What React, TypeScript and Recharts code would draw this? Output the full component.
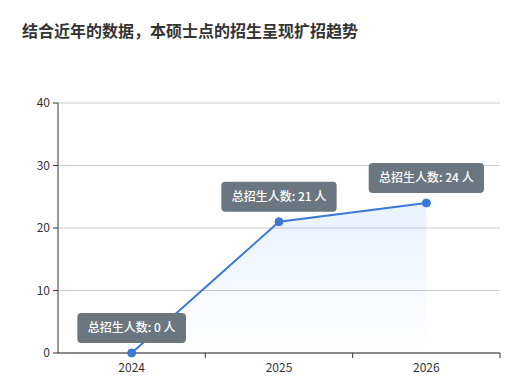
import { ComposedChart, Area, Line, XAxis, YAxis, CartesianGrid, LabelList } from "recharts";

const years = ["2024", "2025", "2026"];
const enrollment = [0, 21, 24];
const yTicks = [0, 10, 20, 30, 40];

const data = years.map((y, i) => ({ year: y, value: enrollment[i] }));

const W = 515;
const H = 378;
const LEFT = 58;
const RIGHT = 15;
const HALF_BAND = (W - LEFT - RIGHT) / years.length / 2;
const FONT = '"Noto Sans CJK SC", "Noto Sans", sans-serif';

function XTick(props: any) {
  const { x, y, payload } = props;
  return (
    <g>
      <line x1={x + HALF_BAND} y1={y - 8} x2={x + HALF_BAND} y2={y - 3} stroke="#333" />
      <text x={x} y={y + 2} dy="0.71em" textAnchor="middle" fill="#333" fontSize={12} fontFamily={FONT}>
        {payload.value}
      </text>
    </g>
  );
}

function BoxLabel(props: any) {
  const { x, y, value } = props;
  const text = `总招生人数: ${value} 人`;
  const w = 88.6 + (String(value).length - 1) * 6.7 + 20;
  const h = 30;
  return (
    <g>
      <rect x={x - w / 2} y={y - 10 - h} width={w} height={h} rx={4} fill="#6b7780" />
      <text x={x} y={y - 10 - h / 2} dy="0.35em" textAnchor="middle" fill="#fff" fontSize={12} fontWeight={500} fontFamily={FONT}>
        {text}
      </text>
    </g>
  );
}

export default function App() {
  return (
    <div style={{ position: "absolute", left: 0, top: 0, width: W, height: H, background: "#fff" }}>
      <div
        style={{
          position: "absolute",
          left: 22,
          top: 19,
          fontSize: 16,
          fontWeight: 700,
          color: "#333",
          fontFamily: FONT,
          lineHeight: "22px",
        }}
      >
        结合近年的数据，本硕士点的招生呈现扩招趋势
      </div>
      <ComposedChart width={W} height={H} data={data} margin={{ top: 103, right: RIGHT, left: 0, bottom: 0 }}>
        <defs>
          <linearGradient id="enrollGrad" x1="0" y1="0" x2="0" y2="1">
            <stop offset="0%" stopColor="#4a8cff" stopOpacity={0.2} />
            <stop offset="100%" stopColor="#4a8cff" stopOpacity={0} />
          </linearGradient>
        </defs>
        <CartesianGrid vertical={false} stroke="#ccc" />
        <XAxis
          dataKey="year"
          height={25}
          padding={{ left: HALF_BAND, right: HALF_BAND }}
          axisLine={{ stroke: "#333" }}
          tickLine={false}
          tick={<XTick />}
          interval={0}
        />
        <YAxis
          width={LEFT}
          domain={[0, 40]}
          ticks={yTicks}
          axisLine={{ stroke: "#333" }}
          tickLine={{ stroke: "#333" }}
          tickSize={5}
          tickMargin={3}
          tick={{ fill: "#333", fontSize: 12, fontFamily: FONT }}
        />
        <Area dataKey="value" stroke="none" fill="url(#enrollGrad)" isAnimationActive={false} />
        <Line
          dataKey="value"
          stroke="#3a78d8"
          strokeWidth={2}
          dot={{ r: 4, fill: "#3a78d8", stroke: "#3a78d8", strokeWidth: 1 }}
          isAnimationActive={false}
        >
          <LabelList dataKey="value" content={<BoxLabel />} />
        </Line>
      </ComposedChart>
    </div>
  );
}
